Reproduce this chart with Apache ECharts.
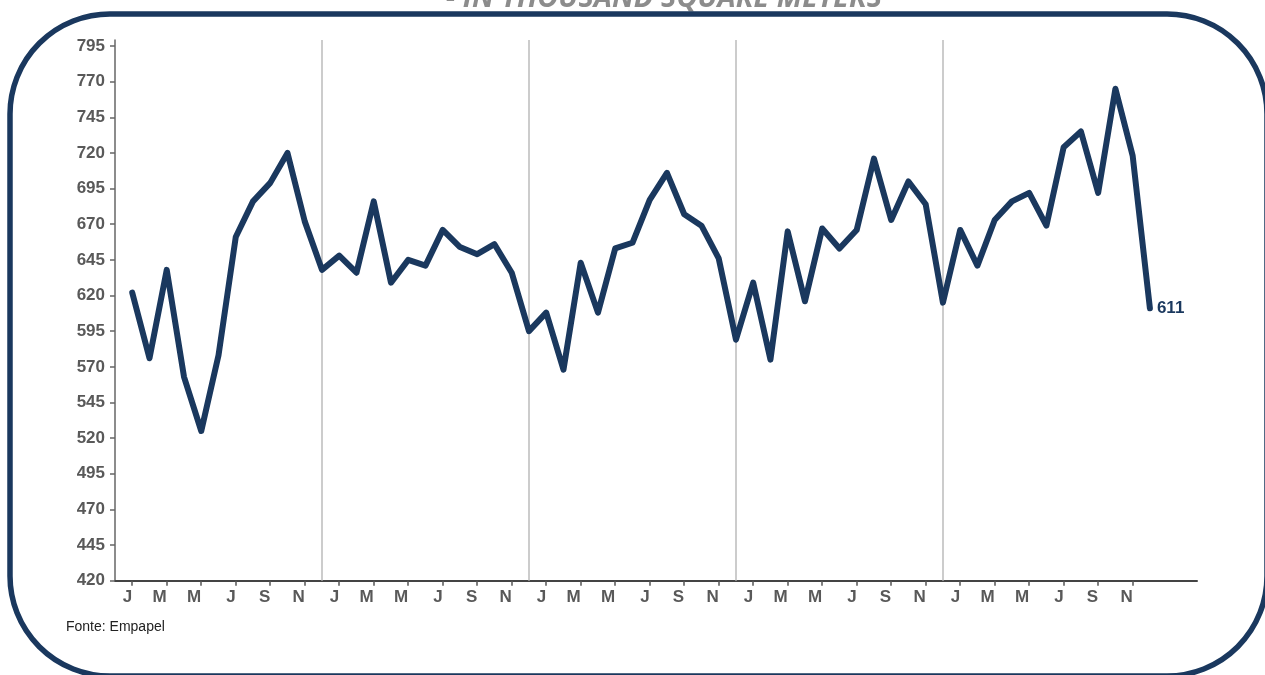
<!DOCTYPE html>
<html>
<head>
<meta charset="utf-8">
<script src="https://cdn.jsdelivr.net/npm/echarts@6/dist/echarts.min.js"></script>
<style>
html,body{margin:0;padding:0;background:#fff;}
#chart{width:1265px;height:675px;}
</style>
</head>
<body>
<div id="chart"></div>
<script>
// Month letters (Jan..Dec)
const monthLetters = ['J','F','M','A','M','J','J','A','S','O','N','D'];

// Monthly values (thousand m²), five consecutive years
const year1 = [622, 576, 638, 563, 525, 578, 661, 686, 699, 720, 672, 638];
const year2 = [648, 636, 686, 629, 645, 641, 666, 654, 649, 656, 636, 595];
const year3 = [608, 568, 643, 608, 653, 657, 687, 706, 677, 669, 646, 589];
const year4 = [629, 575, 665, 616, 667, 653, 666, 716, 673, 700, 684, 615];
const year5 = [666, 641, 673, 686, 692, 669, 724, 735, 692, 765, 718, 611];

// Y tick labels
const yTicks = [420, 445, 470, 495, 520, 545, 570, 595, 620, 645, 670, 695, 720, 745, 770, 795];

// Year boundaries (December positions) where the vertical separators sit
const yearEnds = [11, 23, 35, 47];

const values = [].concat(year1, year2, year3, year4, year5);
const seriesData = values.map((v, i) => [i, v]);
const xTickPositions = values.map((v, i) => i).filter(i => i % 2 === 0);

const chart = echarts.init(document.getElementById('chart'), null, {renderer: 'canvas'});
const navy = '#1a385e';
const labelGrey = '#595959';

chart.setOption({
  animation: false,
  backgroundColor: '#ffffff',
  grid: {left: 115, right: 68, top: 40, bottom: 94.3, containLabel: false},
  xAxis: {
    type: 'value',
    min: -1,
    max: 61.73,
    splitLine: {show: false},
    axisLine: {show: true, onZero: false, lineStyle: {color: '#444', width: 2}},
    axisTick: {show: true, customValues: xTickPositions, length: 5, lineStyle: {color: '#555', width: 1.5}},
    axisLabel: {
      show: true,
      customValues: xTickPositions,
      formatter: v => monthLetters[((v % 12) + 12) % 12],
      align: 'right',
      margin: 8,
      fontFamily: '"Liberation Sans", Arial, sans-serif',
      fontSize: 17,
      fontWeight: 'bold',
      color: labelGrey
    }
  },
  yAxis: {
    type: 'value',
    min: 420,
    max: 799.2,
    splitLine: {show: false},
    axisLine: {show: true, onZero: false, lineStyle: {color: '#666', width: 1.5}},
    axisTick: {show: true, customValues: yTicks, length: 5, lineStyle: {color: '#666', width: 1.5}},
    axisLabel: {
      show: true,
      customValues: yTicks,
      margin: 10,
      fontFamily: '"Liberation Sans", Arial, sans-serif',
      fontSize: 17,
      fontWeight: 'bold',
      color: labelGrey
    }
  },
  series: [{
    type: 'line',
    data: seriesData,
    showSymbol: false,
    symbol: 'none',
    lineStyle: {color: navy, width: 6, cap: 'round', join: 'round'},
    endLabel: {
      show: true,
      formatter: p => String(p.value[1]),
      distance: 7,
      fontFamily: '"Liberation Sans", Arial, sans-serif',
      fontSize: 17,
      fontWeight: 'bold',
      color: navy
    },
    markLine: {
      silent: true,
      symbol: ['none', 'none'],
      label: {show: false},
      lineStyle: {color: '#bbbbbb', width: 1.5, type: 'solid'},
      data: yearEnds.map(x => ({xAxis: x}))
    },
    z: 5
  }],
  graphic: [
    {
      type: 'rect',
      shape: {x: 10, y: 14, width: 1257, height: 662, r: 100},
      style: {fill: 'none', stroke: navy, lineWidth: 5.5},
      silent: true,
      z: 10
    },
    {
      type: 'text',
      x: 664,
      y: -1.5,
      style: {
        text: '- IN THOUSAND SQUARE METERS',
        fill: '#8c8c8c',
        font: 'italic bold 29px "Open Sans", "Liberation Sans", sans-serif',
        textAlign: 'center',
        textVerticalAlign: 'middle'
      },
      silent: true
    },
    {
      type: 'text',
      x: 66,
      y: 627,
      style: {
        text: 'Fonte: Empapel',
        fill: '#222222',
        font: '14px "Liberation Sans", Arial, sans-serif',
        textAlign: 'left',
        textVerticalAlign: 'middle'
      },
      silent: true
    }
  ]
});
</script>
</body>
</html>
